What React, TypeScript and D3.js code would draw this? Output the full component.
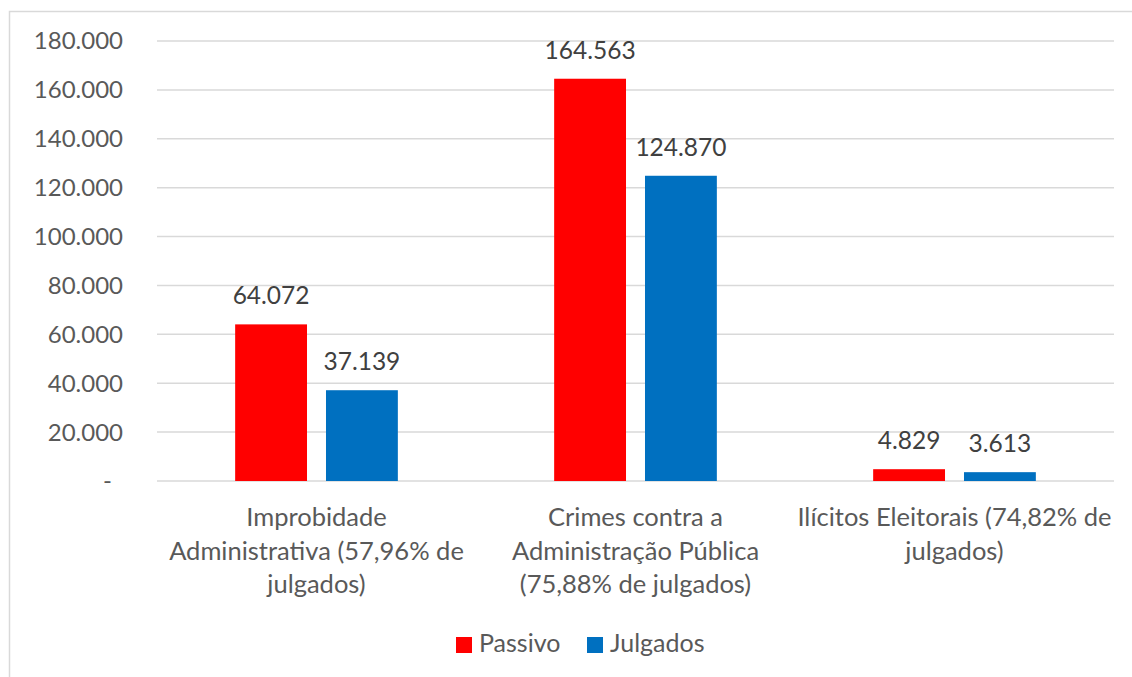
import { useEffect, useRef } from 'react';
import * as d3 from 'd3';

const categories = ['improbidade', 'crimes', 'eleitorais'];
const categoryLines = [
  ['Improbidade', 'Administrativa (57,96% de', 'julgados)'],
  ['Crimes contra a', 'Administração Pública', '(75,88% de julgados)'],
  ['Ilícitos Eleitorais (74,82% de', 'julgados)'],
];
const series = ['Passivo', 'Julgados'];
const passivo = [64072, 164563, 4829];
const julgados = [37139, 124870, 3613];
const yTicks = [0, 20000, 40000, 60000, 80000, 100000, 120000, 140000, 160000, 180000];
const colors = ['#FF0000', '#0070C0'];

const W = 1132;
const H = 677;
const FONT = 'Lato, "Open Sans", sans-serif';

export default function App() {
  const svgRef = useRef<SVGSVGElement>(null);

  useEffect(() => {
    if (!svgRef.current) return;
    const svg = d3.select(svgRef.current);
    svg.selectAll('*').remove();

    const margin = { top: 41, right: 18, bottom: 196, left: 157 };
    const plotBottom = H - margin.bottom;

    // chart frame (only left/top edges fall inside the picture)
    svg.append('rect')
      .attr('x', 9.5).attr('y', 11.5)
      .attr('width', 1300).attr('height', 800)
      .attr('fill', '#fff')
      .attr('stroke', '#D9D9D9')
      .attr('stroke-width', 1.5);

    const y = d3.scaleLinear()
      .domain([0, 180000])
      .range([plotBottom, margin.top]);

    const x0 = d3.scaleBand<string>()
      .domain(categories)
      .range([margin.left, W - margin.right]);

    const x1 = d3.scaleBand<string>()
      .domain(series)
      .range([x0.bandwidth() * 0.245, x0.bandwidth() * 0.755])
      .paddingInner(0.209);

    const fmt = (v: number) => v === 0 ? '-' : d3.format(',')(v).replace(/,/g, '.');

    // gridlines
    svg.append('g')
      .selectAll('line')
      .data(yTicks)
      .join('line')
      .attr('x1', margin.left)
      .attr('x2', W - margin.right)
      .attr('y1', d => y(d))
      .attr('y2', d => y(d))
      .attr('stroke', '#D9D9D9')
      .attr('stroke-width', 1.5);

    // y tick labels
    svg.append('g')
      .selectAll('text')
      .data(yTicks)
      .join('text')
      .attr('x', d => d === 0 ? 112 : 123)
      .attr('y', d => y(d))
      .attr('dy', '0.35em')
      .attr('text-anchor', 'end')
      .attr('fill', '#595959')
      .attr('font-family', FONT)
      .attr('font-size', 24)
      .text(d => fmt(d));

    const values = [passivo, julgados];

    series.forEach((s, si) => {
      const g = svg.append('g');
      g.selectAll('rect')
        .data(values[si])
        .join('rect')
        .attr('x', (_, i) => (x0(categories[i]) ?? 0) + (x1(s) ?? 0))
        .attr('y', d => y(d))
        .attr('width', x1.bandwidth())
        .attr('height', d => plotBottom - y(d))
        .attr('fill', colors[si]);

      g.selectAll('text')
        .data(values[si])
        .join('text')
        .attr('x', (_, i) => (x0(categories[i]) ?? 0) + (x1(s) ?? 0) + x1.bandwidth() / 2)
        .attr('y', d => y(d) - 20)
        .attr('text-anchor', 'middle')
        .attr('fill', '#404040')
        .attr('font-family', FONT)
        .attr('font-size', 24.5)
        .text(d => fmt(d));
    });

    // category labels
    categories.forEach((c, i) => {
      const cx = (x0(c) ?? 0) + x0.bandwidth() / 2;
      svg.append('text')
        .attr('text-anchor', 'middle')
        .attr('fill', '#595959')
        .attr('font-family', FONT)
        .attr('font-size', 25.5)
        .selectAll('tspan')
        .data(categoryLines[i])
        .join('tspan')
        .attr('x', cx)
        .attr('y', (_, li) => plotBottom + 45 + li * 33.5)
        .text(d => d);
    });

    // legend
    const legendX = [456, 587];
    series.forEach((s, si) => {
      svg.append('rect')
        .attr('x', legendX[si]).attr('y', 637)
        .attr('width', 16).attr('height', 16)
        .attr('fill', colors[si]);
      svg.append('text')
        .attr('x', legendX[si] + 23)
        .attr('y', 652)
        .attr('fill', '#595959')
        .attr('font-family', FONT)
        .attr('font-size', 25)
        .text(s);
    });
  }, []);

  return (
    <svg
      ref={svgRef}
      width={W}
      height={H}
      style={{ position: 'absolute', left: 0, top: 0, background: '#fff' }}
    />
  );
}
